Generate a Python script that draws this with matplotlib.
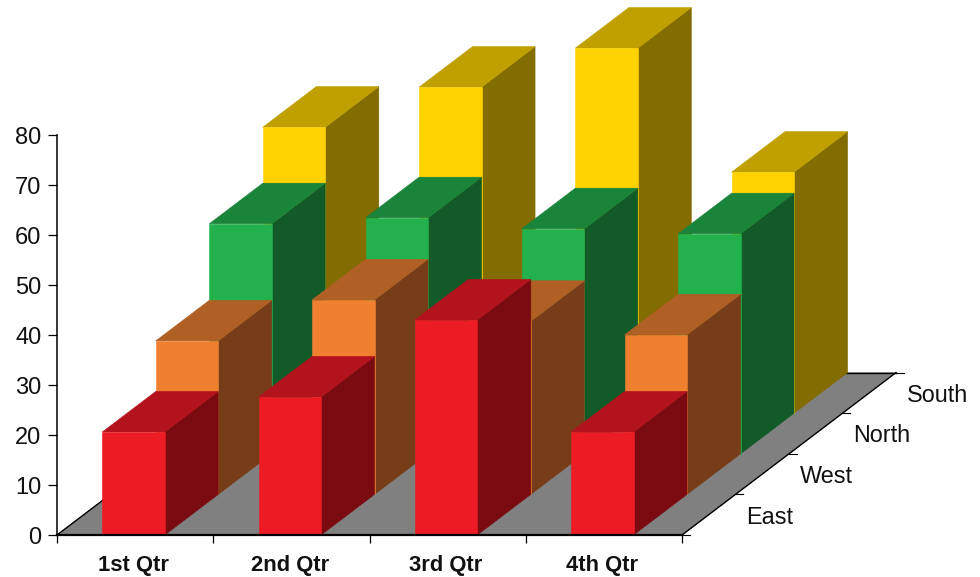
import matplotlib
matplotlib.use('Agg')
import matplotlib.pyplot as plt
from matplotlib.patches import Polygon

plt.rcParams['font.family'] = ['Liberation Sans', 'DejaVu Sans']

quarters = ['1st Qtr', '2nd Qtr', '3rd Qtr', '4th Qtr']
regions = ['East', 'West', 'North', 'South']

east = [20.6, 27.6, 43.0, 20.6]
west = [30.7, 38.9, 34.6, 31.9]
north = [46.0, 47.2, 45.0, 44.0]
south = [57.2, 65.2, 73.0, 48.2]
series = [east, west, north, south]

# front, top and side shades for each region
shades = [('#ed1c24', '#b2131d', '#7a0b11'),
          ('#f08030', '#b06025', '#773d18'),
          ('#22b14c', '#1a843a', '#125a28'),
          ('#ffd200', '#bfa000', '#836c00')]

W, H = 980, 577
DX = 53.5 / 156.25   # x shift of one depth step, in category units
DY = 40.6 / 5.0      # y shift of one depth step, in value units
BAR_OFF = 0.29
BAR_W = 0.40


def project(x, depth, val):
    return (x + depth * DX, val + depth * DY)


def face(ax, pts, color):
    ax.add_patch(Polygon(pts, closed=True, facecolor=color, edgecolor=color,
                         lw=0.4, clip_on=False, zorder=1))


fig = plt.figure(figsize=(W / 100, H / 100), dpi=100)
ax = fig.add_axes([57 / W, (H - 535) / H, 625 / W, 400 / H])
ax.set_xlim(0, 4)
ax.set_ylim(0, 80)

# floor
n = len(regions)
face(ax, [project(0, 0, 0), project(4, 0, 0), project(4, n, 0), project(0, n, 0)], '#808080')
ax.plot(*zip(project(0, 0, 0), project(0, n, 0)), color='black', lw=1.0, clip_on=False, zorder=1)
ax.plot(*zip(project(0, n, 0), project(4, n, 0)), color='black', lw=1.0, clip_on=False, zorder=1)

# bars go back to front so the nearer ones cover the rest
for d in range(n - 1, -1, -1):
    front_c, top_c, side_c = shades[d]
    for c, v in enumerate(series[d]):
        x0 = c + BAR_OFF
        x1 = x0 + BAR_W
        face(ax, [project(x1, d, 0), project(x1, d + 1, 0), project(x1, d + 1, v), project(x1, d, v)], side_c)
        face(ax, [project(x0, d, v), project(x1, d, v), project(x1, d + 1, v), project(x0, d + 1, v)], top_c)
        face(ax, [project(x0, d, 0), project(x1, d, 0), project(x1, d, v), project(x0, d, v)], front_c)

# depth axis along the right edge of the floor
ax.plot(*zip(project(4, 0, 0), project(4, n, 0)), color='black', lw=1.0, clip_on=False, zorder=3)
for d in range(n + 1):
    px, py = project(4, d, 0)
    ax.plot([px, px + 0.05], [py, py], color='black', lw=0.8, clip_on=False, zorder=3)
for d, name in enumerate(regions):
    px, py = project(4, d + 0.5, 0)
    ax.text(px + 0.24, py - 0.5, name, fontsize=16.8, color='#111111', ha='left', va='center')

for s in ['top', 'right']:
    ax.spines[s].set_visible(False)
ax.spines['left'].set_linewidth(1.1)
ax.spines['bottom'].set_linewidth(1.6)

ax.set_yticks(range(0, 90, 10))
ax.tick_params(axis='y', length=6.5, width=0.9, labelsize=17, pad=4.6, labelcolor='#111111')
ax.set_xticks(range(5))
ax.set_xticklabels([])
ax.tick_params(axis='x', which='major', length=6, width=0.9)
ax.set_xticks([i + 0.49 for i in range(4)], minor=True)
ax.set_xticklabels(quarters, minor=True, fontsize=15.8, fontweight='bold', color='#111111')
ax.tick_params(axis='x', which='minor', length=0, pad=14.5)
ax.patch.set_visible(False)

fig.savefig('out.png', dpi=100)
